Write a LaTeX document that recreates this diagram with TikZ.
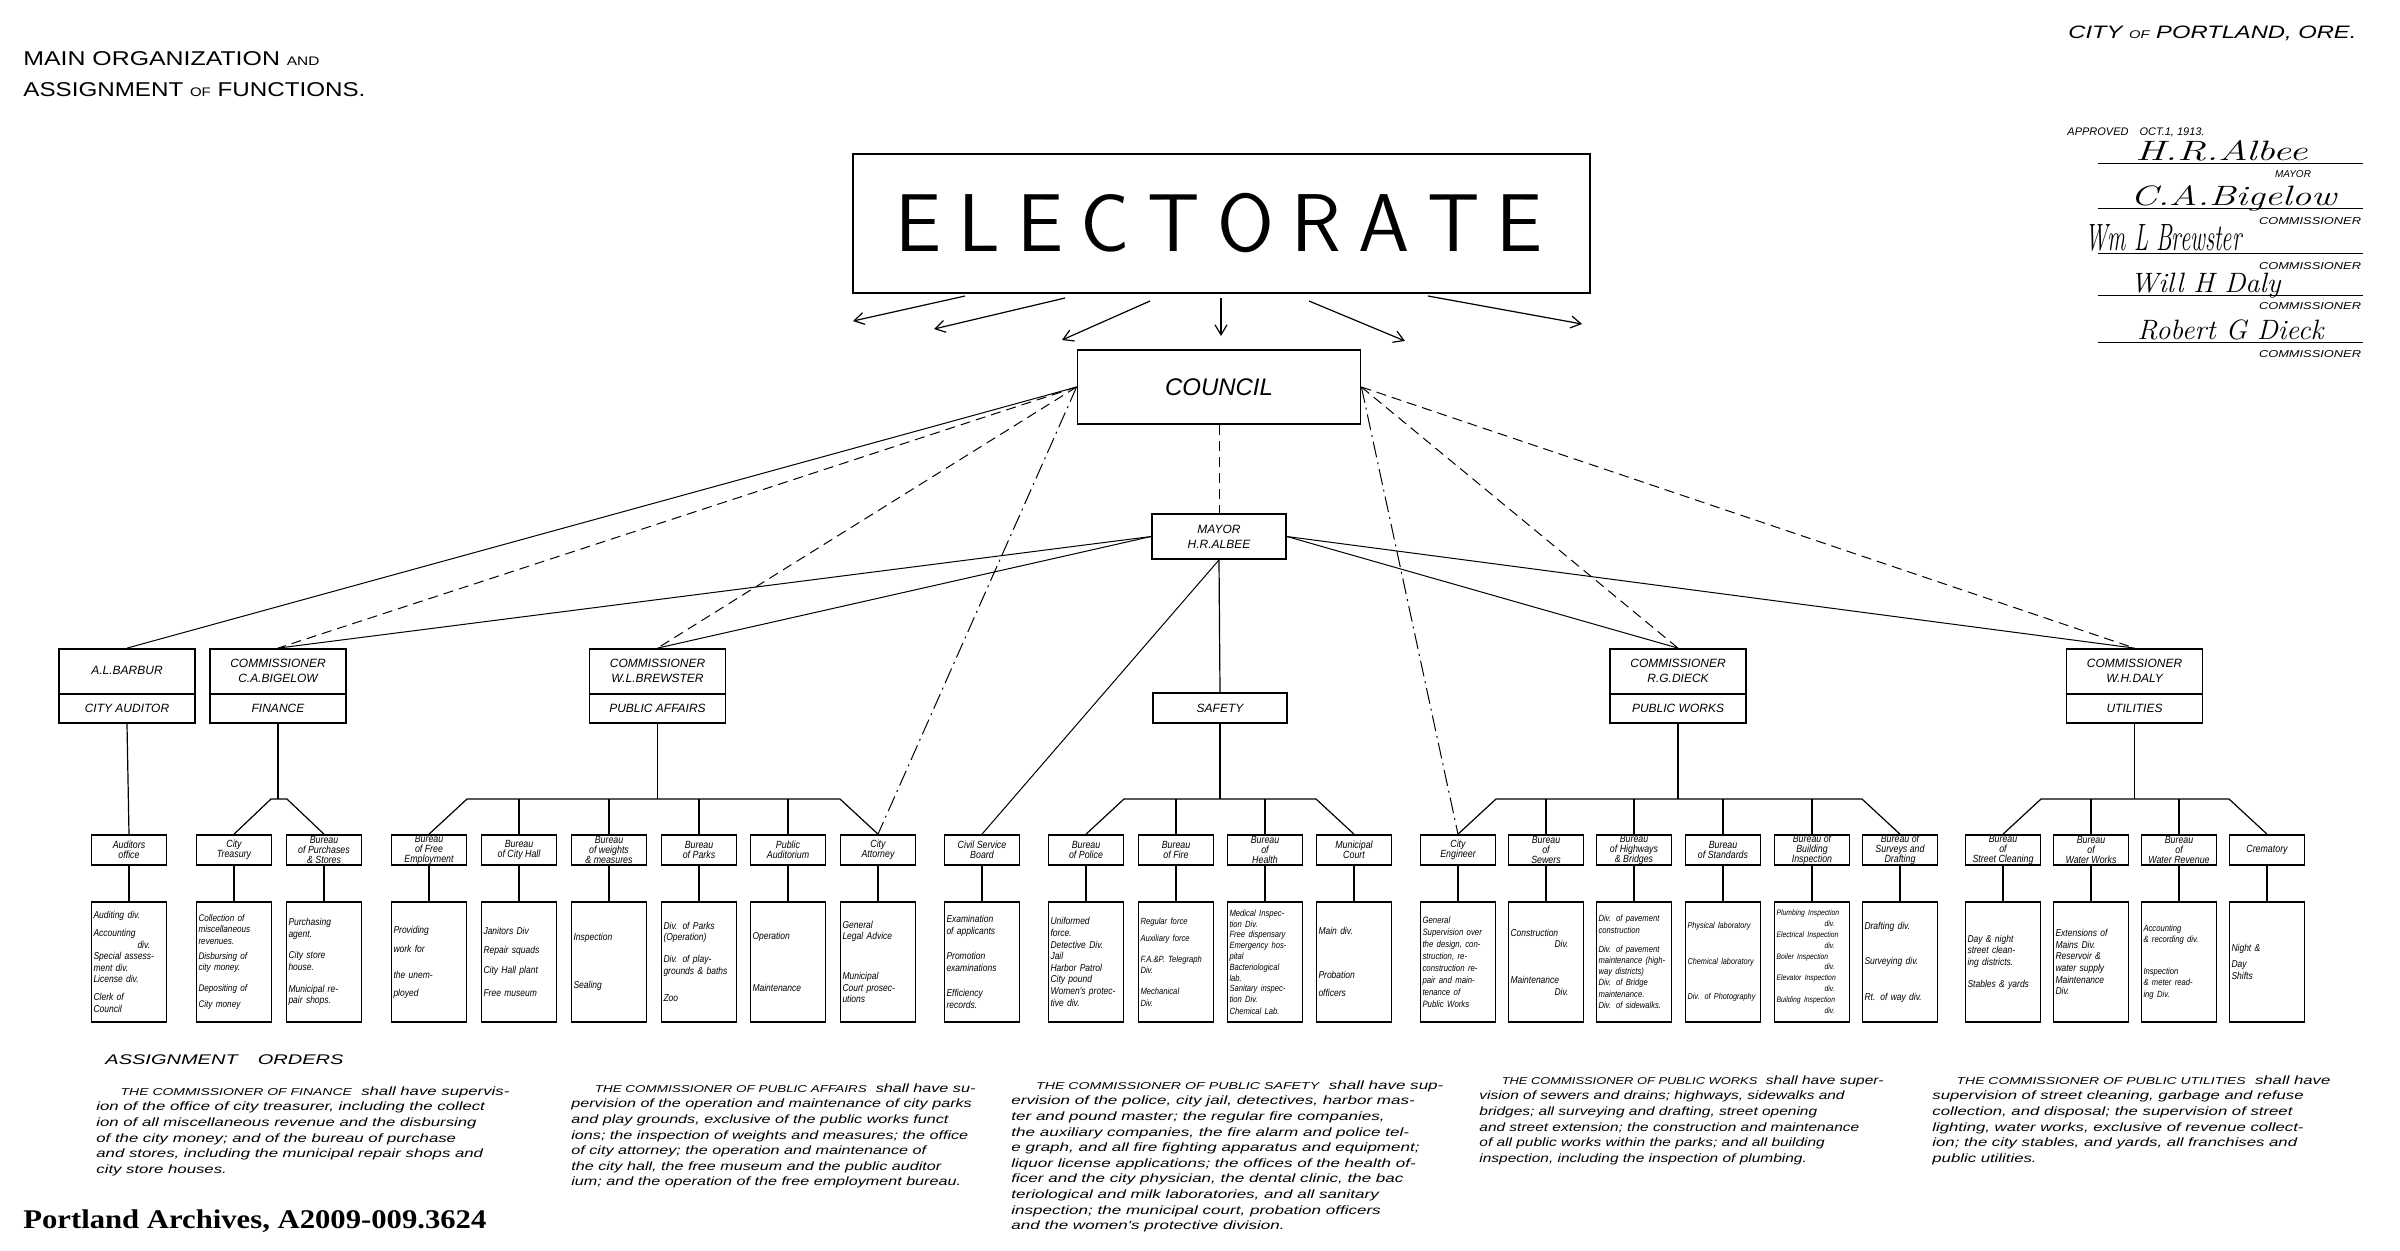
\documentclass[tikz,border=0pt]{standalone}
\usepackage{fontspec}
\usepackage{graphicx}
\usetikzlibrary{calc,arrows.meta}
\newfontfamily\hand{Liberation Sans}
\newfontfamily\handn{Liberation Sans}[FakeStretch=0.85]
\newfontfamily\handw{Liberation Sans}[FakeStretch=1.15]
\newfontfamily\serifb{Liberation Serif}
\newcommand\sm[1]{\scalebox{0.62}{#1}}
\newcommand\fitw[2]{\resizebox{#1}{\height}{#2}}
\newcommand\capsz{\fontsize{5}{7.8}\selectfont}
\newcommand\fsz[2]{\fontsize{#1}{#2}\selectfont}
\newcommand\unitcol[4]{%
  \node[topbox] (#1) at (#2,850) {};
  \node[lbl] (#1l) at (#1.center) {#3};
  \node[detbox] (#1d) at (#2,962) {};
  \node[dtx] (#1t) at (#1d.center) {#4};
  \draw[conn] (#1.south) -- (#1d.north);
}
\newcommand\commbox[4]{%
  \node[cbox] (#1) at (#2,686) {};
  \draw[line width=0.9pt] ($(#1.south west)!0.39!(#1.north west)$) -- ($(#1.south east)!0.39!(#1.north east)$);
  \node[clbl] (#1a) at ($(#1.north)!0.3!(#1.south)$) {#3};
  \node[clbl] (#1b) at ($(#1.north)!0.8!(#1.south)$) {#4};
}
\begin{document}
\begin{tikzpicture}[x=0.5pt,y=-0.5pt,
  topbox/.style={draw, line width=0.85pt, minimum width=37.5pt, minimum height=15pt, inner sep=0pt},
  detbox/.style={draw, line width=0.85pt, minimum width=37.5pt, minimum height=60pt, inner sep=0pt},
  lbl/.style={font=\handn\itshape\fontsize{5.2}{5}\selectfont, align=center, inner sep=0pt},
  dtx/.style={font=\handn\itshape\fontsize{5}{5.8}\selectfont, align=left, text width=35.5pt, inner sep=0pt},
  cbox/.style={draw, line width=0.9pt, minimum width=68pt, minimum height=37pt, inner sep=0pt},
  clbl/.style={font=\hand\itshape\fontsize{6}{7.4}\selectfont, align=center, inner sep=0pt},
  conn/.style={line width=0.6pt},
  thinl/.style={line width=0.5pt},
  dsh/.style={line width=0.5pt, dash pattern=on 5pt off 3pt},
  dshdot/.style={line width=0.5pt, dash pattern=on 8pt off 2.5pt on 1pt off 2.5pt},
  arr/.style={line width=0.6pt, -{Straight Barb[length=5pt,width=6pt]}},
  para/.style={font=\handw\itshape\fontsize{6}{7.8}\selectfont, inner sep=0pt, anchor=north west},
  sig/.style={font=\rmfamily\itshape\fontsize{14}{14}\selectfont, inner sep=0pt, anchor=base west},
  sigt/.style={font=\hand\itshape\fontsize{5}{5}\selectfont, inner sep=0pt},
]
\fill[white] (0,0) rectangle (2400,1250);
\useasboundingbox (0,0) rectangle (2400,1250);

% ---- headings
\node[anchor=west, font=\hand\fontsize{10}{10}\selectfont, inner sep=0pt] (t1) at (23,59) {\fitw{148pt}{MAIN ORGANIZATION \sm{AND}}};
\node[anchor=west, font=\hand\fontsize{10}{10}\selectfont, inner sep=0pt] (t2) at (23,90) {\fitw{171pt}{ASSIGNMENT \sm{OF} FUNCTIONS.}};
\node[anchor=west, font=\hand\itshape\fontsize{9}{9}\selectfont, inner sep=0pt] (city) at (2068,33) {\fitw{144pt}{CITY \sm{OF} PORTLAND, ORE.}};

% ---- approvals
\node[anchor=west, font=\hand\itshape\fontsize{5.5}{6}\selectfont, inner sep=0pt] (appr) at (2067,132) {APPROVED\quad OCT.1, 1913.};
\draw[thinl] (2098,163) -- (2363,163);
\draw[thinl] (2098,208) -- (2363,208);
\draw[thinl] (2098,253) -- (2363,253);
\draw[thinl] (2098,295) -- (2363,295);
\draw[thinl] (2098,342) -- (2363,342);
\node[sig] (s1) at (2135,160) {\fitw{86pt}{H.R.Albee}};
\node[sig] (s2) at (2130,205) {\fitw{103pt}{C.A.Bigelow}};
\node[sig, font=\rmfamily\itshape\fontsize{19}{19}\selectfont] (s3) at (2085,250) {\fitw{78pt}{Wm L Brewster}};
\node[sig] (s4) at (2130,292) {\fitw{75pt}{Will H Daly}};
\node[sig] (s5) at (2137,339) {\fitw{93pt}{Robert G Dieck}};
\node[sigt] (m1) at (2293,174) {MAYOR};
\node[sigt] (m2) at (2310,221) {\fitw{51pt}{COMMISSIONER}};
\node[sigt] (m3) at (2310,266) {\fitw{51pt}{COMMISSIONER}};
\node[sigt] (m4) at (2310,306) {\fitw{51pt}{COMMISSIONER}};
\node[sigt] (m5) at (2310,354) {\fitw{51pt}{COMMISSIONER}};

% ---- electorate, council, mayor
\node[draw, line width=1pt, minimum width=368.5pt, minimum height=69.5pt, inner sep=0pt] (elec) at (1221,223.5) {};
\node[font=\sffamily\fontsize{41}{41}\selectfont, inner sep=0pt] (elect) at (1219,223.5) {\makebox[324pt][s]{E\hfill L\hfill E\hfill C\hfill T\hfill O\hfill R\hfill A\hfill T\hfill E}};
\node[draw, line width=0.9pt, minimum width=141.5pt, minimum height=37pt, inner sep=0pt] (council) at (1219,387) {};
\node[font=\hand\itshape\fontsize{12}{12}\selectfont, inner sep=0pt] (councilt) at (council.center) {COUNCIL};
\node[draw, line width=0.9pt, minimum width=67pt, minimum height=22.5pt, inner sep=0pt] (mayor) at (1219,536.5) {};
\node[clbl] (mayort) at (mayor.center) {MAYOR\\H.R.ALBEE};
\node[draw, line width=0.9pt, minimum width=67pt, minimum height=15pt, inner sep=0pt] (safety) at (1220,708) {};
\node[clbl] (safetyt) at (safety.center) {SAFETY};

% electorate arrows
\coordinate (e1t) at (965,296);  \coordinate (e1h) at (853,321);
\coordinate (e2t) at (1065,298); \coordinate (e2h) at (934,329);
\coordinate (e3t) at (1150,301); \coordinate (e3h) at (1062,340);
\coordinate (e4t) at (1221,298); \coordinate (e4h) at (1221,336);
\coordinate (e5t) at (1309,301); \coordinate (e5h) at (1405,341);
\coordinate (e6t) at (1428,296); \coordinate (e6h) at (1582,324);
\foreach \i in {1,...,6} \draw[arr] (e\i t) -- (e\i h);

% ---- commissioners
\commbox{barbur}{127}{A.L.BARBUR}{CITY AUDITOR}
\commbox{bigelow}{278}{COMMISSIONER\\C.A.BIGELOW}{FINANCE}
\commbox{brewster}{657.5}{COMMISSIONER\\W.L.BREWSTER}{PUBLIC AFFAIRS}
\commbox{dieck}{1678}{COMMISSIONER\\R.G.DIECK}{PUBLIC WORKS}
\commbox{daly}{2134.5}{COMMISSIONER\\W.H.DALY}{UTILITIES}

% ---- units
\unitcol{aud}{129}{Auditors\\office}{Auditing div.\\[3pt]Accounting\\\hspace*{22pt}div.\\Special assess-\\ment div.\\License div.\\[3pt]Clerk of\\Council}
\unitcol{treas}{234}{City\\Treasury}{\fsz{4.8}{5.6}Collection of\\miscellaneous\\revenues.\\[2pt]Disbursing of\\city money.\\[5pt]Depositing of\\[2pt]City money}
\unitcol{purch}{324}{Bureau\\of Purchases\\\& Stores}{Purchasing\\agent.\\[5pt]City store\\house.\\[5pt]Municipal re-\\pair shops.}
\unitcol{femp}{429}{Bureau\\of Free\\Employment}{Providing\\[4pt]work for\\[7pt]the unem-\\[3pt]ployed}
\unitcol{chall}{519}{Bureau\\of City Hall}{Janitors Div\\[4pt]Repair squads\\[4pt]City Hall plant\\[6pt]Free museum}
\unitcol{weights}{609}{Bureau\\of weights\\\& measures}{Inspection\\[18pt]Sealing}
\unitcol{parks}{699}{Bureau\\of Parks}{Div. of Parks\\(Operation)\\[5pt]Div. of play-\\grounds \& baths\\[8pt]Zoo}
\unitcol{audit}{788}{Public\\Auditorium}{Operation\\[20pt]Maintenance}
\unitcol{atty}{878}{City\\Attorney}{General\\Legal Advice\\[14pt]Municipal\\Court prosec-\\utions}
\unitcol{civil}{982}{Civil Service\\Board}{Examination\\of applicants\\[7pt]Promotion\\examinations\\[7pt]Efficiency\\records.}
\unitcol{police}{1086}{Bureau\\of Police}{Uniformed\\force.\\Detective Div.\\Jail\\Harbor Patrol\\City pound\\Women's protec-\\tive div.}
\unitcol{fire}{1176}{Bureau\\of Fire}{\fsz{4.5}{5.6}Regular force\\[3pt]Auxiliary force\\[5pt]F.A.\&P. Telegraph\\Div.\\[5pt]Mechanical\\Div.}
\unitcol{health}{1265}{Bureau\\of\\Health}{\fsz{4.5}{5.4}Medical Inspec-\\tion Div.\\Free dispensary\\Emergency hos-\\pital\\Bacteriological\\lab.\\Sanitary inspec-\\tion Div.\\Chemical Lab.}
\unitcol{court}{1354}{Municipal\\Court}{Main div.\\[16pt]Probation\\[3pt]officers}
\unitcol{eng}{1458}{City\\Engineer}{\fsz{4.6}{6}General\\Supervision over\\the design, con-\\struction, re-\\construction re-\\pair and main-\\tenance of\\Public Works}
\unitcol{sewers}{1546}{Bureau\\of\\Sewers}{Construction\\\hspace*{22pt}Div.\\[12pt]Maintenance\\\hspace*{22pt}Div.}
\unitcol{hwy}{1634}{Bureau\\of Highways\\\& Bridges}{\fsz{4.5}{5.6}Div. of pavement\\construction\\[4pt]Div. of pavement\\maintenance (high-\\way districts)\\Div. of Bridge\\maintenance.\\Div. of sidewalks.}
\unitcol{stds}{1723}{Bureau\\of Standards}{\fsz{4.3}{5.6}Physical laboratory\\[12pt]Chemical laboratory\\[12pt]Div. of Photography}
\unitcol{bldg}{1812}{Bureau of\\Building\\Inspection}{\fsz{4}{5.4}Plumbing Inspection\\\hspace*{24pt}div.\\Electrical Inspection\\\hspace*{24pt}div.\\Boiler Inspection\\\hspace*{24pt}div.\\Elevator Inspection\\\hspace*{24pt}div.\\Building Inspection\\\hspace*{24pt}div.}
\unitcol{surv}{1900}{Bureau of\\Surveys and\\Drafting}{Drafting div.\\[12pt]Surveying div.\\[12pt]Rt. of way div.}
\unitcol{street}{2003}{Bureau\\of\\Street Cleaning}{Day \& night\\street clean-\\ing districts.\\[5pt]Stables \& yards}
\unitcol{water}{2091}{Bureau\\of\\Water Works}{Extensions of\\Mains Div.\\Reservoir \&\\water supply\\Maintenance\\Div.}
\unitcol{wrev}{2179}{Bureau\\of\\Water Revenue}{\fsz{4.5}{5.8}Accounting\\\& recording div.\\[10pt]Inspection\\\& meter read-\\ing Div.}
\unitcol{crem}{2267}{Crematory}{Night \&\\[2pt]Day\\Shifts}

% ---- brackets
\draw[conn] (barbur.south) -- (aud.north);
\coordinate (finL) at (271,799); \coordinate (finR) at (287,799);
\draw[conn] (treas.north) -- (finL) -- (finR) -- (purch.north);
\draw[conn] (bigelow.south) -- (bigelow.south |- finL);
\coordinate (paL) at (467,799); \coordinate (paR) at (840,799);
\draw[conn] (femp.north) -- (paL) -- (paR) -- (atty.north);
\foreach \n in {chall,weights,parks,audit} \draw[conn] (\n.north) -- (\n.north |- paL);
\draw[conn] (brewster.south) -- (brewster.south |- paL);
\coordinate (sfL) at (1124,799); \coordinate (sfR) at (1316,799);
\draw[conn] (police.north) -- (sfL) -- (sfR) -- (court.north);
\foreach \n in {fire,health} \draw[conn] (\n.north) -- (\n.north |- sfL);
\draw[conn] (safety.south) -- (safety.south |- sfL);
\coordinate (pwL) at (1496,799); \coordinate (pwR) at (1862,799);
\draw[conn] (eng.north) -- (pwL) -- (pwR) -- (surv.north);
\foreach \n in {sewers,hwy,stds,bldg} \draw[conn] (\n.north) -- (\n.north |- pwL);
\draw[conn] (dieck.south) -- (dieck.south |- pwL);
\coordinate (utL) at (2041,799); \coordinate (utR) at (2229,799);
\draw[conn] (street.north) -- (utL) -- (utR) -- (crem.north);
\foreach \n in {water,wrev} \draw[conn] (\n.north) -- (\n.north |- utL);
\draw[conn] (daly.south) -- (daly.south |- utL);

% ---- mayor lines
\draw[thinl] (mayor.west) -- (bigelow.north);
\draw[thinl] (mayor.west) -- (brewster.north);
\draw[thinl] (mayor.east) -- (dieck.north);
\draw[thinl] (mayor.east) -- (daly.north);
\draw[conn] (mayor.south) -- (safety.north);
\draw[thinl] (mayor.south) -- (civil.north);

% ---- council lines
\draw[thinl] (council.west) -- (barbur.north);
\draw[dsh] (council.west) -- (bigelow.north);
\draw[dsh] (council.west) -- (brewster.north);
\draw[dshdot] (council.west) -- (atty.north);
\draw[dsh] (council.south) -- (mayor.north);
\draw[dshdot] (council.east) -- (eng.north);
\draw[dsh] (council.east) -- (dieck.north);
\draw[dsh] (council.east) -- (daly.north);

% ---- assignment orders
\node[anchor=west, font=\hand\itshape\fontsize{7}{7}\selectfont, inner sep=0pt] (ao) at (105,1060) {\fitw{119pt}{ASSIGNMENT\quad ORDERS}};
\node[para] (p1) at (96,1084) {\fitw{206.5pt}{\begin{tabular}{@{}l@{}}
\hspace{10pt}{\capsz THE COMMISSIONER OF FINANCE}\ \ shall have supervis-\\
ion of the office of city treasurer, including the collect\\
ion of all miscellaneous revenue and the disbursing\\
of the city money; and of the bureau of purchase\\
and stores, including the municipal repair shops and\\
city store houses.
\end{tabular}}};
\node[para] (p2) at (571,1081) {\fitw{202pt}{\begin{tabular}{@{}l@{}}
\hspace{10pt}{\capsz THE COMMISSIONER OF PUBLIC AFFAIRS}\ \ shall have su-\\
pervision of the operation and maintenance of city parks\\
and play grounds, exclusive of the public works funct\\
ions; the inspection of weights and measures; the office\\
of city attorney; the operation and maintenance of\\
the city hall, the free museum and the public auditor\\
ium; and the operation of the free employment bureau.
\end{tabular}}};
\node[para] (p3) at (1011,1078) {\fitw{216pt}{\begin{tabular}{@{}l@{}}
\hspace{10pt}{\capsz THE COMMISSIONER OF PUBLIC SAFETY}\ \ shall have sup-\\
ervision of the police, city jail, detectives, harbor mas-\\
ter and pound master; the regular fire companies,\\
the auxiliary companies, the fire alarm and police tel-\\
e graph, and all fire fighting apparatus and equipment;\\
liquor license applications; the offices of the health of-\\
ficer and the city physician, the dental clinic, the bac\\
teriological and milk laboratories, and all sanitary\\
inspection; the municipal court, probation officers\\
and the women's protective division.
\end{tabular}}};
\node[para] (p4) at (1479,1073) {\fitw{202pt}{\begin{tabular}{@{}l@{}}
\hspace{10pt}{\capsz THE COMMISSIONER OF PUBLIC WORKS}\ \ shall have super-\\
vision of sewers and drains; highways, sidewalks and\\
bridges; all surveying and drafting, street opening\\
and street extension; the construction and maintenance\\
of all public works within the parks; and all building\\
inspection, including the inspection of plumbing.
\end{tabular}}};
\node[para] (p5) at (1932,1073) {\fitw{199pt}{\begin{tabular}{@{}l@{}}
\hspace{10pt}{\capsz THE COMMISSIONER OF PUBLIC UTILITIES}\ \ shall have\\
supervision of street cleaning, garbage and refuse\\
collection, and disposal; the supervision of street\\
lighting, water works, exclusive of revenue collect-\\
ion; the city stables, and yards, all franchises and\\
public utilities.
\end{tabular}}};

% ---- credit
\node[anchor=west, font=\serifb\bfseries\fontsize{13.5}{14}\selectfont, inner sep=0pt] (credit) at (23,1221) {\fitw{231.5pt}{Portland Archives, A2009-009.3624}};
\end{tikzpicture}
\end{document}
